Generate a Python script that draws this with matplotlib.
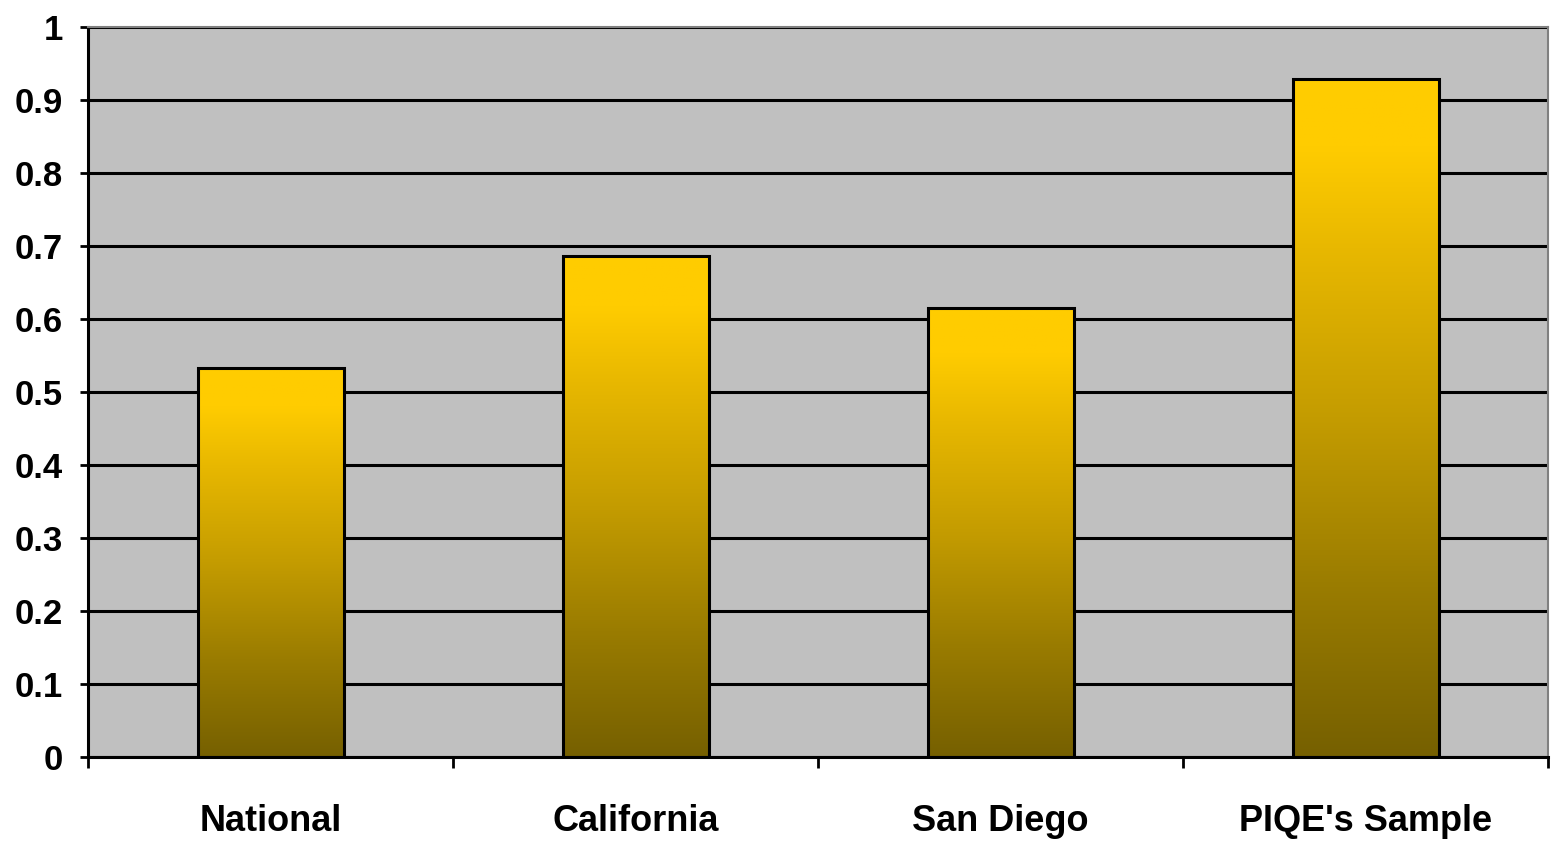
import matplotlib.pyplot as plt
import matplotlib.font_manager as fm
from matplotlib.colors import LinearSegmentedColormap
import numpy as np

# Values per group
categories = ["National", "California", "San Diego", "PIQE's Sample"]
values = [0.533, 0.686, 0.615, 0.929]

names = {f.name for f in fm.fontManager.ttflist}
font = "Liberation Sans Narrow" if "Liberation Sans Narrow" in names else "Liberation Sans"
plt.rcParams["font.family"] = [font, "DejaVu Sans"]
plt.rcParams["font.weight"] = "bold"

fig = plt.figure(figsize=(15.52, 8.42), dpi=100)
ax = fig.add_axes([88 / 1552, 1 - 757 / 842, 1460 / 1552, 730 / 842])
ax.set_facecolor("#c0c0c0")

x = np.arange(len(categories))
bars = ax.bar(x, values, width=0.4, facecolor="none", edgecolor="black",
              linewidth=2.2, zorder=3)

# vertical gold gradient inside each bar
gold = LinearSegmentedColormap.from_list(
    "gold", [(0.0, "#766000"), (0.25, "#9a7c00"), (0.5, "#c49c00"),
             (0.75, "#e8b800"), (0.9, "#ffcc00"), (1.0, "#ffcc00")])
grad = np.linspace(0, 1, 256).reshape(-1, 1)
for b in bars:
    x0, y0 = b.get_x(), b.get_y()
    im = ax.imshow(grad, cmap=gold, origin="lower", aspect="auto",
                   extent=[x0, x0 + b.get_width(), y0, y0 + b.get_height()],
                   zorder=2)
    im.set_clip_path(b)

ax.set_xlim(-0.5, len(categories) - 0.5)
ax.set_ylim(0, 1)
ax.set_yticks(np.arange(0, 1.01, 0.1))
ax.set_yticklabels(["0", "0.1", "0.2", "0.3", "0.4", "0.5", "0.6", "0.7",
                    "0.8", "0.9", "1"])
ax.yaxis.grid(True, color="black", linewidth=2.2, zorder=1)
ax.set_axisbelow(True)

ax.set_xticks(x)
ax.set_xticklabels(categories)
ax.set_xticks(np.arange(-0.5, len(categories)), minor=True)
ax.tick_params(axis="x", which="major", length=0, pad=34, labelsize=26)
ax.tick_params(axis="x", which="minor", length=8, width=2, direction="out")
ax.tick_params(axis="y", length=6, width=2, pad=12, labelsize=25)

for side in ["left", "bottom"]:
    ax.spines[side].set_color("black")
    ax.spines[side].set_linewidth(2.2)
for side in ["top", "right"]:
    ax.spines[side].set_color("#808080")
    ax.spines[side].set_linewidth(1.5)

fig.savefig("out.png", dpi=100)
